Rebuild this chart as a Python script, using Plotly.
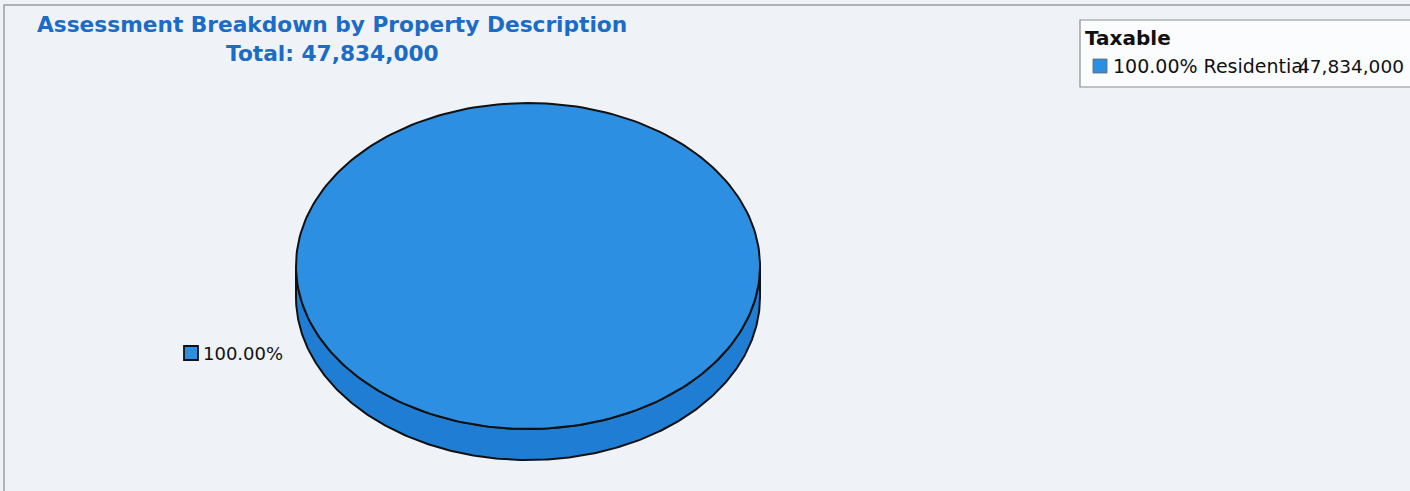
import numpy as np
import plotly.graph_objects as go

# ---- data ----
section_name = "Taxable"
categories = ["Residential"]
values = [47834000]

W, H = 1410, 491
BG = "#eff2f7"
TOP_COLORS = ["#2d8fe2"]
SIDE_COLORS = ["#1f7ed4"]

total = sum(values)
shares = [v / total for v in values]

# pie geometry (pixel space, y grows downward)
cx, cy = 528, 266
rx, ry = 232, 163
depth = 31
start_deg = 90.0

fig = go.Figure()


def arc(a0, a1, n=240):
    return np.linspace(np.radians(a0), np.radians(a1), n)


# slice angle spans
acc = 0.0
slices = []
for share in shares:
    a0 = start_deg - acc * 360
    a1 = start_deg - (acc + share) * 360
    slices.append((a0, a1))
    acc += share

# side walls first (only the front-facing part of each slice)
for (a0, a1), col in zip(slices, SIDE_COLORS):
    lo, hi = min(a0, a1), max(a0, a1)
    segs = []
    for k in range(-2, 2):
        s0 = max(lo, -180 + 360 * k)
        s1 = min(hi, 0 + 360 * k)
        if s1 > s0:
            segs.append((s0, s1))
    for s0, s1 in segs:
        t = arc(s0, s1)
        xt = cx + rx * np.cos(t)
        yt = cy - ry * np.sin(t)
        xs = np.concatenate([xt, xt[::-1], xt[:1]])
        ys = np.concatenate([yt, (yt + depth)[::-1], yt[:1]])
        fig.add_trace(go.Scatter(x=xs, y=ys, mode="lines", fill="toself",
                                 fillcolor=col, line=dict(color="#111", width=2),
                                 hoverinfo="skip", showlegend=False))

# top faces
for (a0, a1), col, share in zip(slices, TOP_COLORS, shares):
    t = arc(a1, a0)
    xs = cx + rx * np.cos(t)
    ys = cy - ry * np.sin(t)
    if share < 0.9999:
        xs = np.concatenate([[cx], xs, [cx]])
        ys = np.concatenate([[cy], ys, [cy]])
    fig.add_trace(go.Scatter(x=xs, y=ys, mode="lines", fill="toself",
                             fillcolor=col, line=dict(color="#111", width=2),
                             hoverinfo="skip", showlegend=False))

shapes = []
annotations = []

# outer frame
shapes.append(dict(type="rect", xref="x", yref="y", x0=4, y0=5, x1=W + 5, y1=H + 5,
                   line=dict(color="#9a9ca0", width=1.5), fillcolor="rgba(0,0,0,0)", layer="below"))

# title
title_font = dict(family="DejaVu Sans", size=21.7, color="#1a6cc6")
annotations.append(dict(x=332, y=24, xref="x", yref="y", showarrow=False,
                        text="<b>Assessment Breakdown by Property Description</b>",
                        font=title_font, xanchor="center", yanchor="middle"))
annotations.append(dict(x=332, y=53, xref="x", yref="y", showarrow=False,
                        text=f"<b>Total: {total:,}</b>",
                        font=title_font, xanchor="center", yanchor="middle"))

# slice labels
for share, col in zip(shares, TOP_COLORS):
    shapes.append(dict(type="rect", xref="x", yref="y", x0=184, y0=346, x1=198, y1=360,
                       fillcolor=col, line=dict(color="#111", width=1.8)))
    annotations.append(dict(x=201, y=353, xref="x", yref="y", showarrow=False,
                            text=f"{share * 100:.2f}%", xanchor="left", yanchor="middle",
                            font=dict(family="DejaVu Sans", size=18, color="#111")))

# legend box
shapes.append(dict(type="rect", xref="x", yref="y", x0=1080, y0=20, x1=W + 5, y1=87,
                   fillcolor="#fbfcfd", line=dict(color="#8a8c90", width=1.2)))
annotations.append(dict(x=1083, y=38, xref="x", yref="y", showarrow=False,
                        text=f"<b>{section_name}</b>", xanchor="left", yanchor="middle",
                        font=dict(family="DejaVu Sans", size=20, color="#111")))
for i, (cat, val, share, col) in enumerate(zip(categories, values, shares, TOP_COLORS)):
    yy = 66 + i * 24
    shapes.append(dict(type="rect", xref="x", yref="y", x0=1093, y0=yy - 7, x1=1107, y1=yy + 7,
                       fillcolor=col, line=dict(color="#666", width=0.8)))
    annotations.append(dict(x=1111, y=yy, xref="x", yref="y", showarrow=False,
                            text=f"{share * 100:.2f}% {cat}", xanchor="left", yanchor="middle",
                            font=dict(family="DejaVu Sans", size=19, color="#111")))
    annotations.append(dict(x=1406, y=yy, xref="x", yref="y", showarrow=False,
                            text=f"{val:,}", xanchor="right", yanchor="middle",
                            font=dict(family="DejaVu Sans", size=18.5, color="#111")))

fig.update_layout(
    width=W, height=H,
    margin=dict(l=0, r=0, t=0, b=0),
    paper_bgcolor=BG, plot_bgcolor=BG,
    xaxis=dict(range=[0, W], visible=False, fixedrange=True),
    yaxis=dict(range=[H, 0], visible=False, fixedrange=True),
    shapes=shapes, annotations=annotations,
    showlegend=False,
)

fig.write_html("out.html")
